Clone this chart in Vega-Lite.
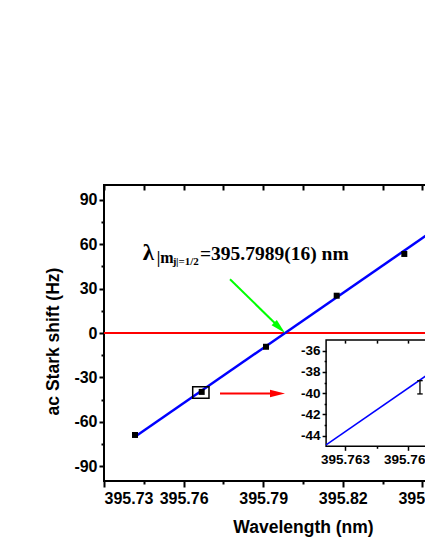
{
  "$schema": "https://vega.github.io/schema/vega-lite/v6.json",
  "width": 398,
  "height": 296,
  "autosize": {"type": "none"},
  "padding": {"left": 104, "top": 185, "right": 0, "bottom": 69},
  "background": "white",
  "config": {
    "view": {"stroke": "black", "strokeWidth": 2},
    "axis": {
      "labelFont": "Liberation Sans",
      "titleFont": "Liberation Sans",
      "labelFontWeight": "bold",
      "titleFontWeight": "bold",
      "labelColor": "black",
      "titleColor": "black",
      "tickColor": "black",
      "domainColor": "black",
      "grid": false
    }
  },
  "datasets": {
    "pts": [
      {"x": 395.74168, "y": -68.9},
      {"x": 395.76682, "y": -39.8},
      {"x": 395.79106, "y": -9.3},
      {"x": 395.8177, "y": 25.2},
      {"x": 395.84318, "y": 53.4}
    ],
    "fit": [{"x": 395.74168, "y": -70.07}, {"x": 395.87, "y": 88.9}],
    "green": [{"x": 395.77749, "y": 36.3}, {"x": 395.79618, "y": 3.5}],
    "greenHead": [{"x": 395.79618, "y": 3.5}],
    "red": [{"x": 395.77372, "y": -40.8}, {"x": 395.79539, "y": -40.8}],
    "redHead": [{"x": 395.79539, "y": -40.8}],
    "box": [{"x": 395.76343, "x2": 395.76957, "y": -36.3, "y2": -44.1}],
    "lambdaText": [{"x": 395.74462, "y": 49.3, "t": "λ"}],
    "bigText": [{"x": 395.76618, "y": 49.3, "t": "=395.7989(16) nm"}],
    "midText": [{"x": 395.74986, "y": 47.0, "t": "|m"}],
    "smallText": [
      {"x": 395.75594, "y": 46.0, "t": "j"},
      {"x": 395.75712, "y": 46.0, "t": "|=1/2"}
    ],
    "insetFrame": [{"x": 395.7621, "x2": 395.768, "y": -45, "y2": -35}],
    "insetLine": [{"x": 395.7621, "y": -44.87}, {"x": 395.768, "y": -36.8}],
    "insetErr": [{"x": 395.76657, "y": -38.82, "y2": -40.07}],
    "insetCaps": [{"x": 395.76657, "y": -38.82}, {"x": 395.76657, "y": -40.07}]
  },
  "layer": [
    {
      "layer": [
        {
          "data": {"name": "pts"},
          "mark": {"type": "rule", "color": "#FF0000", "strokeWidth": 2},
          "encoding": {
            "y": {"datum": 0, "type": "quantitative", "scale": {"domain": [-100, 100]}, "axis": null}
          }
        },
        {
          "data": {"name": "fit"},
          "mark": {"type": "line", "color": "#0000FF", "strokeWidth": 2.5},
          "encoding": {
            "x": {"field": "x", "type": "quantitative", "scale": {"domain": [395.73, 395.88], "nice": false, "zero": false},
              "axis": {
                "orient": "bottom",
                "offset": -296,
                "zindex": 1,
                "values": [395.73, 395.745, 395.76, 395.775, 395.79, 395.805, 395.82, 395.835, 395.85, 395.865, 395.88],
                "labels": false,
                "domain": false,
                "title": null,
                "tickWidth": 2,
                "tickSize": 5
              }
            },
            "y": {"field": "y", "type": "quantitative", "scale": {"domain": [-100, 100], "nice": false}, "axis": null}
          }
        },
        {
          "data": {"name": "green"},
          "mark": {"type": "line", "color": "#00FF00", "strokeWidth": 2},
          "encoding": {
            "x": {"field": "x", "type": "quantitative", "scale": {"domain": [395.73, 395.88], "nice": false, "zero": false}, "axis": null},
            "y": {"field": "y", "type": "quantitative", "scale": {"domain": [-100, 100], "nice": false}, "axis": null}
          }
        },
        {
          "data": {"name": "greenHead"},
          "mark": {"type": "point", "shape": "M0,-1L0.5,1L-0.5,1Z", "filled": true, "color": "#00FF00", "opacity": 1, "size": 225, "angle": 134},
          "encoding": {
            "x": {"field": "x", "type": "quantitative", "scale": {"domain": [395.73, 395.88], "nice": false, "zero": false}, "axis": null},
            "y": {"field": "y", "type": "quantitative", "scale": {"domain": [-100, 100], "nice": false}, "axis": null}
          }
        },
        {
          "data": {"name": "red"},
          "mark": {"type": "line", "color": "#FF0000", "strokeWidth": 2},
          "encoding": {
            "x": {"field": "x", "type": "quantitative", "scale": {"domain": [395.73, 395.88], "nice": false, "zero": false}, "axis": null},
            "y": {"field": "y", "type": "quantitative", "scale": {"domain": [-100, 100], "nice": false}, "axis": null}
          }
        },
        {
          "data": {"name": "redHead"},
          "mark": {"type": "point", "shape": "M0,-1L0.5,1L-0.5,1Z", "filled": true, "color": "#FF0000", "opacity": 1, "size": 225, "angle": 90},
          "encoding": {
            "x": {"field": "x", "type": "quantitative", "scale": {"domain": [395.73, 395.88], "nice": false, "zero": false}, "axis": null},
            "y": {"field": "y", "type": "quantitative", "scale": {"domain": [-100, 100], "nice": false}, "axis": null}
          }
        },
        {
          "data": {"name": "pts"},
          "mark": {"type": "point", "shape": "square", "filled": true, "color": "black", "opacity": 1, "size": 36},
          "encoding": {
            "x": {"field": "x", "type": "quantitative", "scale": {"domain": [395.73, 395.88], "nice": false, "zero": false},
              "axis": {
                "orient": "bottom",
                "values": [395.73, 395.745, 395.76, 395.775, 395.79, 395.805, 395.82, 395.835, 395.85, 395.865, 395.88],
                "labelExpr": "abs(datum.value*100/3 - round(datum.value*100/3)) < 0.01 ? format(datum.value, '.2f') : ''",
                "tickSize": {"condition": {"test": "abs(datum.value*100/3 - round(datum.value*100/3)) < 0.01", "value": 6}, "value": 3},
                "tickWidth": 2,
                "domain": false,
                "labelFontSize": 16,
                "labelPadding": 3,
                "title": "Wavelength (nm)",
                "titleFontSize": 17.5,
                "titleBaseline": "middle",
                "titleY": 46
              }
            },
            "y": {"field": "y", "type": "quantitative", "scale": {"domain": [-100, 100], "nice": false},
              "axis": {
                "orient": "left",
                "values": [-90, -75, -60, -45, -30, -15, 0, 15, 30, 45, 60, 75, 90],
                "labelExpr": "datum.value % 30 == 0 ? datum.value : ''",
                "tickSize": {"condition": {"test": "datum.value % 30 == 0", "value": 5}, "value": 3},
                "tickWidth": 2,
                "domain": false,
                "labelFontSize": 16,
                "labelPadding": 2,
                "title": "ac Stark shift (Hz)",
                "titleFontSize": 17.5,
                "titleAngle": -90,
                "titleAlign": "center",
                "titleBaseline": "middle",
                "titleX": -51,
                "titleY": 156
              }
            }
          }
        },
        {
          "data": {"name": "box"},
          "mark": {"type": "rect", "fill": "white", "fillOpacity": 0, "stroke": "black", "strokeWidth": 1.5},
          "encoding": {
            "x": {"field": "x", "type": "quantitative", "scale": {"domain": [395.73, 395.88], "nice": false, "zero": false}, "axis": null},
            "x2": {"field": "x2"},
            "y": {"field": "y", "type": "quantitative", "scale": {"domain": [-100, 100], "nice": false}, "axis": null},
            "y2": {"field": "y2"}
          }
        },
        {
          "data": {"name": "lambdaText"},
          "mark": {"type": "text", "font": "Liberation Serif", "fontWeight": "bold", "fontSize": 23, "align": "left", "baseline": "alphabetic", "color": "black"},
          "encoding": {
            "x": {"field": "x", "type": "quantitative", "scale": {"domain": [395.73, 395.88], "nice": false, "zero": false}, "axis": null},
            "y": {"field": "y", "type": "quantitative", "scale": {"domain": [-100, 100], "nice": false}, "axis": null},
            "text": {"field": "t"}
          }
        },
        {
          "data": {"name": "bigText"},
          "mark": {"type": "text", "font": "Liberation Serif", "fontWeight": "bold", "fontSize": 19.5, "align": "left", "baseline": "alphabetic", "color": "black"},
          "encoding": {
            "x": {"field": "x", "type": "quantitative", "scale": {"domain": [395.73, 395.88], "nice": false, "zero": false}, "axis": null},
            "y": {"field": "y", "type": "quantitative", "scale": {"domain": [-100, 100], "nice": false}, "axis": null},
            "text": {"field": "t"}
          }
        },
        {
          "data": {"name": "midText"},
          "mark": {"type": "text", "font": "Liberation Serif", "fontWeight": "bold", "fontSize": 16, "align": "left", "baseline": "alphabetic", "color": "black"},
          "encoding": {
            "x": {"field": "x", "type": "quantitative", "scale": {"domain": [395.73, 395.88], "nice": false, "zero": false}, "axis": null},
            "y": {"field": "y", "type": "quantitative", "scale": {"domain": [-100, 100], "nice": false}, "axis": null},
            "text": {"field": "t"}
          }
        },
        {
          "data": {"name": "smallText"},
          "mark": {"type": "text", "font": "Liberation Serif", "fontWeight": "bold", "fontSize": 11, "align": "left", "baseline": "alphabetic", "color": "black"},
          "encoding": {
            "x": {"field": "x", "type": "quantitative", "scale": {"domain": [395.73, 395.88], "nice": false, "zero": false}, "axis": null},
            "y": {"field": "y", "type": "quantitative", "scale": {"domain": [-100, 100], "nice": false}, "axis": null},
            "text": {"field": "t"}
          }
        }
      ],
      "resolve": {"axis": {"x": "independent", "y": "independent"}}
    },
    {
      "layer": [
        {
          "data": {"name": "insetFrame"},
          "mark": {"type": "rect", "fill": "white", "stroke": "black", "strokeWidth": 1.5},
          "encoding": {
            "x": {"field": "x", "type": "quantitative", "scale": {"domain": [395.7621, 395.768], "range": [222.1, 346], "nice": false, "zero": false},
              "axis": {
                "orient": "bottom",
                "offset": -140.9,
                "zindex": 2,
                "values": [395.763, 395.7645, 395.766, 395.7675],
                "labels": false,
                "domain": false,
                "title": null,
                "tickWidth": 1.5,
                "tickSize": 3
              }
            },
            "x2": {"field": "x2"},
            "y": {"field": "y", "type": "quantitative", "scale": {"domain": [-45, -35], "range": [261.3, 155.1], "nice": false, "zero": false},
              "axis": {
                "orient": "left",
                "offset": -222.1,
                "zindex": 2,
                "values": [-44, -43, -42, -41, -40, -39, -38, -37, -36],
                "labelExpr": "datum.value % 2 == 0 ? datum.value : ''",
                "tickSize": {"condition": {"test": "datum.value % 2 == 0", "value": 4}, "value": 2},
                "tickWidth": 1.5,
                "domain": false,
                "labelFontSize": 13.5,
                "labelPadding": 2,
                "title": null
              }
            },
            "y2": {"field": "y2"}
          }
        },
        {
          "data": {"name": "insetLine"},
          "mark": {"type": "line", "color": "#0000FF", "strokeWidth": 1.5},
          "encoding": {
            "x": {"field": "x", "type": "quantitative", "scale": {"domain": [395.7621, 395.768], "range": [222.1, 346], "nice": false, "zero": false},
              "axis": {
                "orient": "bottom",
                "offset": -34.7,
                "zindex": 2,
                "values": [395.763, 395.7645, 395.766, 395.7675],
                "labelExpr": "abs(datum.value*1000/3 - round(datum.value*1000/3)) < 0.01 ? format(datum.value, '.3f') : ''",
                "tickSize": {"condition": {"test": "abs(datum.value*1000/3 - round(datum.value*1000/3)) < 0.01", "value": 4}, "value": 2},
                "tickWidth": 1.5,
                "domain": false,
                "labelFontSize": 13.5,
                "labelPadding": 2,
                "title": null
              }
            },
            "y": {"field": "y", "type": "quantitative", "scale": {"domain": [-45, -35], "range": [261.3, 155.1], "nice": false, "zero": false}, "axis": null}
          }
        },
        {
          "data": {"name": "insetErr"},
          "mark": {"type": "rule", "color": "black", "strokeWidth": 1.3},
          "encoding": {
            "x": {"field": "x", "type": "quantitative", "scale": {"domain": [395.7621, 395.768], "range": [222.1, 346], "nice": false, "zero": false}, "axis": null},
            "y": {"field": "y", "type": "quantitative", "scale": {"domain": [-45, -35], "range": [261.3, 155.1], "nice": false, "zero": false}, "axis": null},
            "y2": {"field": "y2"}
          }
        },
        {
          "data": {"name": "insetCaps"},
          "mark": {"type": "point", "shape": "M-1,0L1,0", "filled": false, "color": "black", "opacity": 1, "strokeWidth": 1.3, "size": 30},
          "encoding": {
            "x": {"field": "x", "type": "quantitative", "scale": {"domain": [395.7621, 395.768], "range": [222.1, 346], "nice": false, "zero": false}, "axis": null},
            "y": {"field": "y", "type": "quantitative", "scale": {"domain": [-45, -35], "range": [261.3, 155.1], "nice": false, "zero": false}, "axis": null}
          }
        }
      ],
      "resolve": {"axis": {"x": "independent", "y": "independent"}}
    }
  ],
  "resolve": {"scale": {"x": "independent", "y": "independent"}}
}
